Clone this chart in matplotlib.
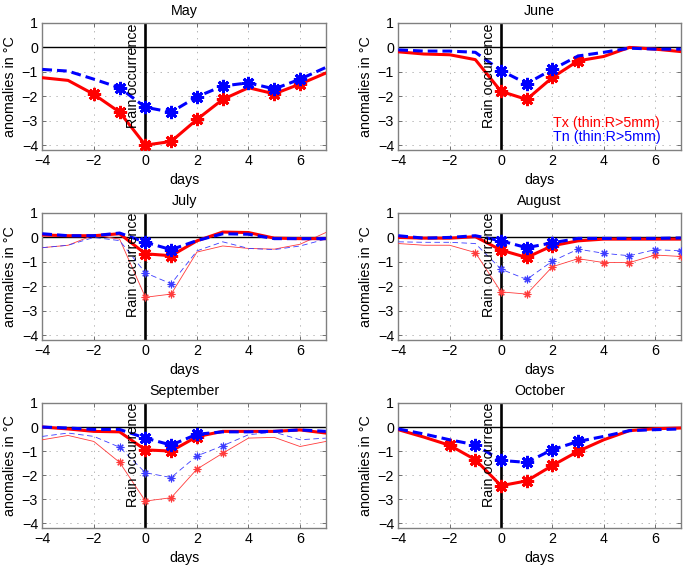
import matplotlib
matplotlib.use('Agg')
import matplotlib.pyplot as plt

plt.rcParams['font.family'] = ['Liberation Sans', 'DejaVu Sans']
plt.rcParams['font.size'] = 10.3
plt.rcParams['lines.scale_dashes'] = False

days = [-4, -3, -2, -1, 0, 1, 2, 3, 4, 5, 6, 7]
months = ['May', 'June', 'July', 'August', 'September', 'October']

# thick lines (all rain days) and significant days (asterisks)
may_tx = [-1.24, -1.35, -1.92, -2.65, -4.0, -3.85, -2.95, -2.13, -1.65, -1.9, -1.5, -1.05]
may_tx_sig = [-2, -1, 0, 1, 2, 3, 5, 6]
may_tn = [-0.9, -0.97, -1.3, -1.65, -2.45, -2.65, -2.02, -1.58, -1.45, -1.7, -1.3, -0.82]
may_tn_sig = [-1, 0, 1, 2, 3, 4, 5, 6]

jun_tx = [-0.18, -0.27, -0.3, -0.5, -1.8, -2.13, -1.23, -0.55, -0.37, 0.0, -0.07, -0.17]
jun_tx_sig = [0, 1, 2, 3]
jun_tn = [-0.1, -0.15, -0.15, -0.2, -0.95, -1.48, -0.9, -0.35, -0.2, -0.03, -0.07, -0.07]
jun_tn_sig = [0, 1, 2]

jul_tx = [0.1, 0.07, 0.07, 0.15, -0.67, -0.75, -0.14, 0.22, 0.2, -0.03, -0.05, -0.05]
jul_tx_sig = [0, 1]
jul_tn = [0.15, 0.07, 0.07, 0.18, -0.2, -0.5, -0.13, 0.15, 0.13, -0.05, -0.05, -0.05]
jul_tn_sig = [0, 1]
jul_tx_thin = [-0.42, -0.32, 0.1, -0.07, -2.45, -2.32, -0.6, -0.35, -0.45, -0.48, -0.28, 0.2]
jul_tx_thin_sig = [0, 1]
jul_tn_thin = [-0.42, -0.32, 0.0, -0.13, -1.45, -1.9, -0.55, -0.18, -0.45, -0.5, -0.35, -0.07]
jul_tn_thin_sig = [0, 1]

aug_tx = [0.0, -0.03, -0.03, 0.03, -0.52, -0.82, -0.34, -0.14, -0.07, -0.07, -0.07, -0.07]
aug_tx_sig = [0, 1, 2]
aug_tn = [0.07, -0.03, 0.0, 0.07, -0.14, -0.42, -0.22, -0.04, -0.04, -0.04, -0.04, -0.02]
aug_tn_sig = [0, 1, 2]
aug_tx_thin = [-0.25, -0.32, -0.32, -0.62, -2.23, -2.32, -1.2, -0.87, -1.03, -1.03, -0.72, -0.78]
aug_tx_thin_sig = [-1, 0, 1, 2, 3, 4, 5, 6, 7]
aug_tn_thin = [-0.18, -0.2, -0.2, -0.25, -1.3, -1.72, -0.97, -0.48, -0.65, -0.75, -0.5, -0.55]
aug_tn_thin_sig = [0, 1, 2, 3, 4, 5, 6, 7]

sep_tx = [0.0, -0.08, -0.18, -0.2, -0.95, -1.0, -0.4, -0.18, -0.18, -0.18, -0.12, -0.25]
sep_tx_sig = [0, 1, 2]
sep_tn = [0.0, -0.04, -0.1, -0.1, -0.46, -0.75, -0.3, -0.2, -0.2, -0.18, -0.12, -0.18]
sep_tn_sig = [0, 1, 2]
sep_tx_thin = [-0.53, -0.35, -0.6, -1.47, -3.08, -2.94, -1.75, -1.09, -0.46, -0.43, -0.81, -0.6]
sep_tx_thin_sig = [-1, 0, 1, 2, 3]
sep_tn_thin = [-0.39, -0.25, -0.39, -0.84, -1.9, -2.1, -1.2, -0.78, -0.32, -0.21, -0.53, -0.46]
sep_tn_thin_sig = [-1, 0, 1, 2, 3]

oct_tx = [-0.11, -0.42, -0.76, -1.36, -2.44, -2.24, -1.6, -1.01, -0.53, -0.15, -0.07, -0.04]
oct_tx_sig = [-2, -1, 0, 1, 2, 3]
oct_tn = [-0.08, -0.29, -0.53, -0.74, -1.39, -1.47, -0.94, -0.6, -0.39, -0.15, -0.11, -0.08]
oct_tn_sig = [-1, 0, 1, 2, 3]

panels = [
    (may_tx, may_tx_sig, may_tn, may_tn_sig, None),
    (jun_tx, jun_tx_sig, jun_tn, jun_tn_sig, None),
    (jul_tx, jul_tx_sig, jul_tn, jul_tn_sig,
     (jul_tx_thin, jul_tx_thin_sig, jul_tn_thin, jul_tn_thin_sig)),
    (aug_tx, aug_tx_sig, aug_tn, aug_tn_sig,
     (aug_tx_thin, aug_tx_thin_sig, aug_tn_thin, aug_tn_thin_sig)),
    (sep_tx, sep_tx_sig, sep_tn, sep_tn_sig,
     (sep_tx_thin, sep_tx_thin_sig, sep_tn_thin, sep_tn_thin_sig)),
    (oct_tx, oct_tx_sig, oct_tn, oct_tn_sig, None),
]

RED = '#ff0000'
BLUE = '#0000ff'
RED_THIN = '#ff3b3b'
BLUE_THIN = '#3b3bff'
AST = (8, 2, 0)

W, H = 685, 567
fig = plt.figure(figsize=(W / 100, H / 100), dpi=100)

lefts = [42.3, 398.3]
widths = [283.5, 282.5]
tops = [23, 213, 403]
heights = [127, 127, 125]


def idx(sig):
    return [days.index(d) for d in sig]


for k, (month, pdata) in enumerate(zip(months, panels)):
    r, c = divmod(k, 2)
    ax = fig.add_axes([lefts[c] / W, 1 - (tops[r] + heights[r]) / H,
                       widths[c] / W, heights[r] / H])
    ax.set_axisbelow(True)
    tx, txs, tn, tns, thin = pdata

    ax.axhline(0, color='black', lw=1.0, zorder=2)
    ax.axvline(0, color='black', lw=1.9, zorder=2)

    if thin is not None:
        ttx, ttxs, ttn, ttns = thin
        ax.plot(days, ttx, color=RED_THIN, lw=0.6, marker=AST, markevery=idx(ttxs),
                ms=5.5, mew=0.8, zorder=3)
        ax.plot(days, ttn, color=BLUE_THIN, lw=0.6, dashes=(4, 2.5), marker=AST,
                markevery=idx(ttns), ms=5.5, mew=0.8, zorder=3)

    ax.plot(days, tx, color=RED, lw=2.2, marker=AST, markevery=idx(txs),
            ms=9.5, mew=2.0, zorder=4)
    ax.plot(days, tn, color=BLUE, lw=2.2, dashes=(7, 3.6), marker=AST,
            markevery=idx(tns), ms=9.5, mew=2.0, zorder=5)

    ax.set_xlim(-4, 7)
    ax.set_ylim(-4.2, 1)
    ax.set_xticks([-4, -2, 0, 2, 4, 6])
    ax.set_yticks([-4, -3, -2, -1, 0, 1])
    ax.grid(True, color='0.6', lw=0.5, linestyle=(0, (1, 4)), zorder=0)
    ax.tick_params(direction='in', top=True, right=True, length=3, width=0.6,
                   color='0.35', pad=3)
    for s in ax.spines.values():
        s.set_color('0.5')
        s.set_linewidth(1.0)

    ax.set_title(month, pad=6, fontsize=10.3, fontweight='normal')
    ax.set_xlabel('days')
    ax.set_ylabel('anomalies in \u00b0C')
    ax.xaxis.set_label_coords(0.5, -0.185)
    ax.yaxis.set_label_coords(-0.09, 0.5)

    ax.text(-0.2, 1.0, 'Rain occurrence', rotation=90, ha='right', va='top',
            zorder=6)

    if month == 'June':
        ax.text(2.02, -3.08, 'Tx (thin:R>5mm)', color=RED, ha='left', va='center')
        ax.text(2.02, -3.66, 'Tn (thin:R>5mm)', color=BLUE, ha='left', va='center')

fig.savefig('out.png', dpi=100)
